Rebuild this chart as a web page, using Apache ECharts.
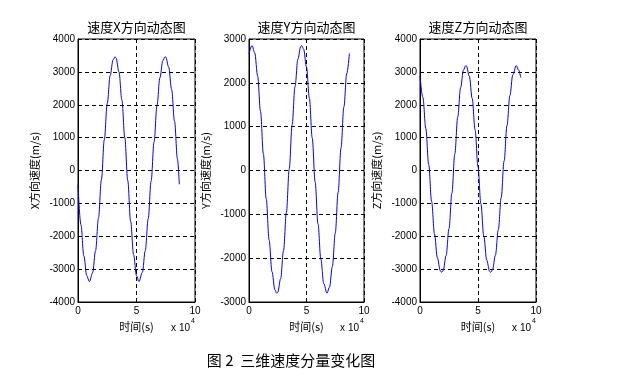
<!DOCTYPE html>
<html>
<head>
<meta charset="utf-8">
<script src="https://cdn.jsdelivr.net/npm/echarts@6/dist/echarts.min.js"></script>
<style>
html,body{margin:0;padding:0;background:#fff;}
#c{width:634px;height:382px;}
</style>
</head>
<body>
<div id="c"></div>
<script>
// time in units of 1e4 s
const timeX = [0,0.25,0.5,0.75,0.97,1.25,1.5,1.75,2.0,2.25,2.5,2.75,3.0,3.16,3.25,3.5,3.75,4.0,4.25,4.5,4.75,5.0,5.21,5.5,5.75,6.0,6.25,6.5,6.75,7.0,7.25,7.44,7.5,7.75,8.0,8.25,8.5,8.66];
const velX = [-440,-1650,-2600,-3200,-3380,-3110,-2440,-1450,-280,940,2040,2890,3370,3460,3430,3000,2150,1000,-300,-1550,-2560,-3200,-3380,-3100,-2440,-1470,-320,870,1970,2820,3340,3460,3450,3150,2470,1500,350,-420];

const timeY = [0,0.26,0.5,0.75,1.0,1.25,1.5,1.75,2.0,2.25,2.41,2.5,2.75,3.0,3.25,3.5,3.75,4.0,4.25,4.5,4.58,4.75,5.0,5.25,5.5,5.75,6.0,6.25,6.5,6.78,7.0,7.25,7.5,7.75,8.0,8.25,8.5,8.73];
const velY = [2660,2850,2680,2160,1350,380,-650,-1590,-2310,-2720,-2800,-2780,-2470,-1830,-960,40,1040,1910,2540,2830,2850,2770,2360,1650,740,-260,-1220,-2030,-2580,-2800,-2660,-2190,-1430,-500,510,1450,2210,2670];

const timeZ = [0,0.25,0.5,0.75,1.0,1.25,1.5,1.75,1.87,2.0,2.25,2.5,2.75,3.0,3.25,3.5,3.75,3.94,4.0,4.25,4.5,4.75,5.0,5.25,5.5,5.75,6.0,6.09,6.25,6.5,6.75,7.0,7.25,7.5,7.75,8.0,8.3,8.5,8.68];
const velZ = [2880,2220,1280,180,-940,-1930,-2660,-3050,-3100,-3040,-2590,-1770,-690,500,1620,2520,3060,3190,3180,2870,2190,1230,110,-1020,-2000,-2720,-3070,-3100,-3020,-2580,-1810,-820,290,1370,2280,2910,3190,3060,2830];

const titles = ['速度X方向动态图','速度Y方向动态图','速度Z方向动态图'];
const yNames = ['X方向速度(m/s)','Y方向速度(m/s)','Z方向速度(m/s)'];
const xName = '时间(s)';
const yRanges = [[-4000,4000],[-3000,3000],[-4000,4000]];
const xTicks = [0,10,5];
const caption = '图 2  三维速度分量变化图';

const grids = [
  {left:78, top:39, width:117, height:263},
  {left:249, top:39, width:115, height:263},
  {left:420, top:39, width:116, height:263}
];
const times = [timeX,timeY,timeZ];
const vels = [velX,velY,velZ];

const numFont = 'Liberation Sans, Arial, sans-serif';
const cjkFont = '"Noto Sans CJK SC", sans-serif';

const option = {
  animation:false,
  backgroundColor:'#fff',
  grid: grids.map(g => Object.assign({show:true, borderColor:'#000', borderWidth:1, backgroundColor:'#fff', containLabel:false}, g)),
  xAxis: grids.map((g,i) => ({
    type:'value', gridIndex:i, min:xTicks[0], max:xTicks[1], interval:xTicks[2],
    name:xName, nameLocation:'middle', nameGap:16,
    nameTextStyle:{fontFamily:cjkFont, fontSize:11, color:'#000'},
    axisLine:{show:true, onZero:false, lineStyle:{color:'#000', width:1}},
    axisTick:{show:true, inside:true, length:3, lineStyle:{color:'#000'}},
    axisLabel:{fontFamily:numFont, fontSize:10, color:'#000', margin:4, formatter: v => String(v)},
    splitLine:{show:true, lineStyle:{color:'#000', type:[4,3], width:1}}
  })),
  yAxis: grids.map((g,i) => ({
    type:'value', gridIndex:i, min:yRanges[i][0], max:yRanges[i][1], interval:1000,
    name:yNames[i], nameLocation:'middle', nameGap:38, nameRotate:90,
    nameTextStyle:{fontFamily:cjkFont, fontSize:11, color:'#000'},
    axisLine:{show:true, onZero:false, lineStyle:{color:'#000', width:1}},
    axisTick:{show:true, inside:true, length:3, lineStyle:{color:'#000'}},
    axisLabel:{fontFamily:numFont, fontSize:10, color:'#000', margin:3, formatter: v => String(v)},
    splitLine:{show:true, lineStyle:{color:'#000', type:[4,3], width:1}}
  })),
  series: grids.map((g,i) => ({
    type:'line', xAxisIndex:i, yAxisIndex:i,
    data: times[i].map((t,k) => [t, vels[i][k]]),
    showSymbol:false, smooth:0.35, smoothMonotone:'x',
    lineStyle:{color:'#0000ff', width:1},
    itemStyle:{color:'#0000ff'}
  })),
  graphic: [].concat(
    grids.map((g,i) => ({
      type:'text', x:g.left + g.width/2, y:27,
      style:{text:titles[i], font:'13px "Noto Sans CJK SC", sans-serif', fill:'#000',
        textAlign:'center', textVerticalAlign:'middle', align:'center', verticalAlign:'middle'}
    })),
    grids.map((g,i) => ({
      type:'text', x:g.left + g.width - 5, y:328.5,
      style:{text:'x 10', font:'10px Liberation Sans, Arial, sans-serif', fill:'#000',
        textAlign:'right', textVerticalAlign:'middle', align:'right', verticalAlign:'middle'}
    })),
    grids.map((g,i) => ({
      type:'text', x:g.left + g.width - 4, y:321.5,
      style:{text:'4', font:'7px Liberation Sans, Arial, sans-serif', fill:'#000',
        textAlign:'left', textVerticalAlign:'middle', align:'left', verticalAlign:'middle'}
    })),
    [{
      type:'text', x:291, y:360,
      style:{text:caption, font:'15px "Noto Sans CJK SC", sans-serif', fill:'#000',
        textAlign:'center', textVerticalAlign:'middle', align:'center', verticalAlign:'middle'}
    }]
  )
};

const chart = echarts.init(document.getElementById('c'), null, {renderer:'canvas'});
chart.setOption(option);
</script>
</body>
</html>
